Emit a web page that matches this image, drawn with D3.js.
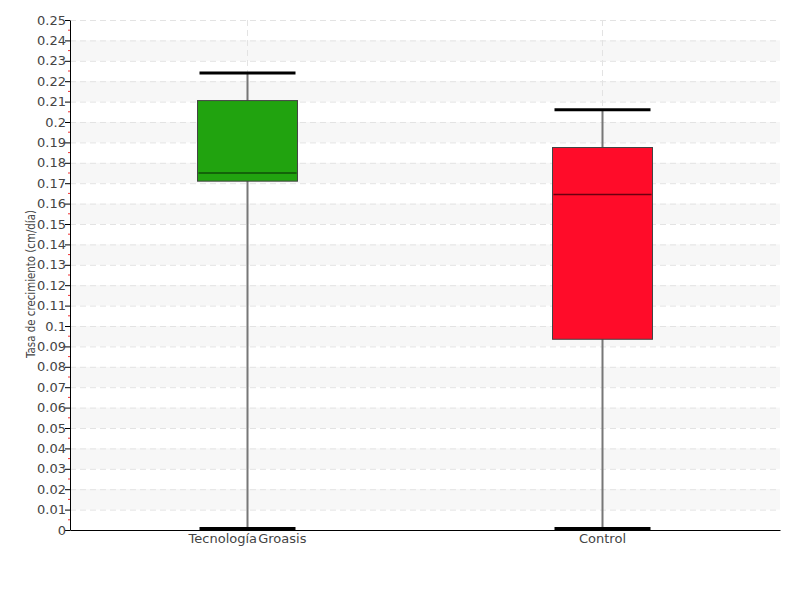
<!DOCTYPE html>
<html><head><meta charset="utf-8">
<script src="https://cdn.jsdelivr.net/npm/d3@7"></script>
<style>
body{margin:0;background:#fff;}
text{font-family:"DejaVu Sans",sans-serif;fill:#444;}
</style></head><body>
<svg id="c" width="800" height="600"></svg>
<script>
const categories = ["Tecnología Groasis", "Control"];
const whiskerLow = [0, 0];
const q1 = [0.171, 0.0935];
const median = [0.175, 0.1645];
const q3 = [0.2105, 0.1875];
const whiskerHigh = [0.224, 0.206];
const fills = ["#21a30f", "#ff0c29"];
const medianColors = ["#0f4f08", "#6b0010"];
const yTicks = d3.range(0, 0.2501, 0.01).map(v => +v.toFixed(2));

const svg = d3.select("#c");
const m = {l:70, r:20, t:20, b:70};
const W = 800, H = 600;
const FONT = '"DejaVu Sans",sans-serif';
const x = d3.scaleBand().domain(categories).range([m.l, W - m.r]).paddingInner(0).paddingOuter(0);
const y = d3.scaleLinear().domain([0, 0.25]).range([H - m.b, m.t]);
const cx = c => x(c) + x.bandwidth()/2;

// alternating bands
const g = svg.append("g");
for (let i = 1; i < 25; i += 2) {
  g.append("rect").attr("x", m.l+1).attr("width", W - m.r - m.l - 1)
   .attr("y", y(yTicks[i+1])).attr("height", y(yTicks[i]) - y(yTicks[i+1]))
   .attr("fill", "#f7f7f7");
}
// horizontal grid
g.selectAll("line.h").data(yTicks.slice(1)).join("line")
  .attr("x1", m.l).attr("x2", W - m.r).attr("y1", d => y(d)+0.5).attr("y2", d => y(d)+0.5)
  .attr("stroke", "#e3e3e3").attr("stroke-dasharray", "6,4");
// vertical grid
g.selectAll("line.v").data(categories).join("line")
  .attr("x1", d => cx(d)).attr("x2", d => cx(d)).attr("y1", m.t).attr("y2", H - m.b)
  .attr("stroke", "#e3e3e3").attr("stroke-dasharray", "6,4");

// boxes
const bw = 100, capW = 96;
categories.forEach((c, i) => {
  const X = cx(c);
  svg.append("line").attr("x1", X).attr("x2", X).attr("y1", y(whiskerHigh[i])).attr("y2", y(whiskerLow[i]))
    .attr("stroke", "#777").attr("stroke-width", 2);
  svg.append("rect").attr("x", X - bw/2).attr("width", bw)
    .attr("y", y(q3[i])).attr("height", y(q1[i]) - y(q3[i]))
    .attr("fill", fills[i]).attr("stroke", "#444").attr("stroke-width", 1);
  svg.append("line").attr("x1", X - bw/2 + 1).attr("x2", X + bw/2 - 1).attr("y1", y(median[i])).attr("y2", y(median[i]))
    .attr("stroke", medianColors[i]).attr("stroke-width", 1.5);
  [whiskerHigh[i], whiskerLow[i]].forEach(v => {
    svg.append("line").attr("x1", X - capW/2).attr("x2", X + capW/2).attr("y1", y(v) - (v === 0 ? 1.5 : 0)).attr("y2", y(v) - (v === 0 ? 1.5 : 0))
      .attr("stroke", "#000").attr("stroke-width", 3);
  });
});

// y axis
const ya = svg.append("g").attr("transform", `translate(${m.l},0)`)
  .call(d3.axisLeft(y).tickValues(yTicks).tickFormat(d => d3.format("")(d)).tickSize(5).tickSizeOuter(0));
ya.select(".domain").attr("stroke", "#000");
ya.selectAll(".tick line").attr("stroke", "#000");
ya.selectAll(".tick text").attr("font-size", 13).attr("fill", "#444").attr("x", -4)
  .style("font-family", FONT);
// minor red ticks
const minor = d3.range(0.005, 0.25, 0.01);
svg.append("g").selectAll("line").data(minor).join("line")
  .attr("x1", m.l - 2).attr("x2", m.l).attr("y1", d => y(d)).attr("y2", d => y(d))
  .attr("stroke", "#e33").attr("stroke-width", 1);

// x axis
const xa = svg.append("g").attr("transform", `translate(0,${H - m.b})`)
  .call(d3.axisBottom(x).tickSize(0).tickSizeOuter(0));
xa.select(".domain").attr("stroke", "#000");
xa.selectAll(".tick text").attr("font-size", 13).attr("fill", "#444").attr("dy", "0.8em")
  .style("font-family", FONT)
  .style("word-spacing", "-3px");

// y label
svg.append("text").attr("transform", `translate(35,284) rotate(-90)`)
  .attr("text-anchor", "middle").attr("font-size", 13)
  .attr("textLength", 148).attr("lengthAdjust", "spacingAndGlyphs")
  .style("font-family", FONT)
  .text("Tasa de crecimiento (cm/día)");
</script></body></html>
